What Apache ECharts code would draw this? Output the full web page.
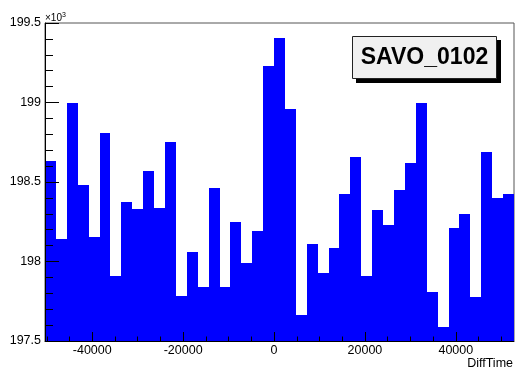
<!DOCTYPE html>
<html>
<head>
<meta charset="utf-8">
<script src="https://cdn.jsdelivr.net/npm/echarts@6/dist/echarts.min.js"></script>
<style>
html,body{margin:0;padding:0;background:#fff;}
#chart{width:520px;height:371px;}
</style>
</head>
<body>
<div id="chart"></div>
<script>
// Histogram bin edges (DiffTime)
const binEdges = [-50400,-48000,-45600,-43200,-40800,-38400,-36000,-33600,-31200,-28800,-26400,-24000,-21600,-19200,-16800,-14400,-12000,-9600,-7200,-4800,-2400,0,2400,4800,7200,9600,12000,14400,16800,19200,21600,24000,26400,28800,31200,33600,36000,38400,40800,43200,45600,48000,50400,52800];
// Bin contents
const counts = [198634,198142,199000,198481,198156,198810,197911,198376,198328,198569,198335,198754,197783,198062,197838,198464,197841,198246,197989,198194,199230,199408,198957,197664,198108,197926,198087,198427,198659,197909,198324,198232,198450,198618,198995,197806,197590,198213,198297,197775,198690,198397,198425];
// Axis ticks
const xMajorTicks = [-40000,-20000,0,20000,40000];
const xMinorTicks = [-50000,-45000,-35000,-30000,-25000,-15000,-10000,-5000,5000,10000,15000,25000,30000,35000,45000,50000];
const yMin = 197500, yMax = 199500, yStep = 500;
const title = 'SAVO_0102';
const xTitle = 'DiffTime';

const data = counts.map((c, i) => [binEdges[i], binEdges[i + 1], c]);
const FONT = '"Liberation Sans", Arial, Helvetica, sans-serif';

const chart = echarts.init(document.getElementById('chart'), null, {renderer: 'canvas'});
chart.setOption({
  animation: false,
  backgroundColor: '#ffffff',
  grid: {left: 45, right: 6, top: 23, bottom: 30, show: true, borderColor: '#555', borderWidth: 1, backgroundColor: 'transparent'},
  xAxis: [{
    type: 'value', min: binEdges[0], max: binEdges[binEdges.length - 1], z: 5,
    axisLine: {show: true, onZero: false, lineStyle: {color: '#000', width: 1}},
    axisTick: {show: true, inside: true, length: 9, customValues: xMajorTicks, lineStyle: {color: '#000'}},
    axisLabel: {show: true, customValues: xMajorTicks, margin: 3, color: '#000', fontFamily: FONT, fontSize: 12.5,
      formatter: v => String(v)},
    splitLine: {show: false}
  }, {
    type: 'value', min: binEdges[0], max: binEdges[binEdges.length - 1], position: 'bottom', z: 5,
    axisLine: {show: false, onZero: false},
    axisTick: {show: true, inside: true, length: 4.5, customValues: xMinorTicks, lineStyle: {color: '#000'}},
    axisLabel: {show: false},
    splitLine: {show: false}
  }],
  yAxis: {
    type: 'value', min: yMin, max: yMax, interval: yStep, z: 5,
    axisLine: {show: true, onZero: false, lineStyle: {color: '#000', width: 1}},
    axisTick: {show: true, inside: true, length: 14, lineStyle: {color: '#000'}},
    minorTick: {show: true, splitNumber: 5, length: 8, lineStyle: {color: '#000'}},
    axisLabel: {margin: 4, color: '#000', fontFamily: FONT, fontSize: 12.5,
      formatter: v => String(v / 1000)},
    splitLine: {show: false}
  },
  series: [{
    type: 'custom',
    xAxisIndex: 0,
    clip: true,
    encode: {x: [0, 1], y: 2},
    data: data,
    renderItem: function (params, api) {
      const p0 = api.coord([api.value(0), api.value(2)]);
      const p1 = api.coord([api.value(1), yMin]);
      const x0 = Math.round(p0[0]), x1 = Math.round(p1[0]);
      const y0 = Math.round(p0[1]), y1 = Math.round(p1[1]);
      return {
        type: 'rect',
        shape: {x: x0, y: y0, width: x1 - x0, height: y1 - y0},
        style: {fill: '#0000ff'}
      };
    }
  }],
  graphic: [
    {type: 'rect', shape: {x: 356, y: 40, width: 145, height: 43}, style: {fill: '#000'}, z: 10},
    {type: 'rect', shape: {x: 352.5, y: 36.5, width: 144, height: 42}, style: {fill: '#f0f0f0', stroke: '#222', lineWidth: 1}, z: 11},
    {type: 'text', x: 424.5, y: 57.5, z: 12,
      style: {text: title, fill: '#000', font: 'bold 23px ' + FONT, textAlign: 'center', textVerticalAlign: 'middle'}},
    {type: 'text', x: 513, y: 364, z: 12,
      style: {text: xTitle, fill: '#000', font: '12.5px ' + FONT, textAlign: 'right', textVerticalAlign: 'middle'}},
    {type: 'text', x: 45, y: 18, z: 12,
      style: {text: '×10{s|3}', fill: '#000', font: '10px ' + FONT, textAlign: 'left', textVerticalAlign: 'middle',
        rich: {s: {fontSize: 7, fontFamily: FONT, verticalAlign: 'top', padding: [0, 0, 6, 0]}}}}
  ]
});
</script>
</body>
</html>
